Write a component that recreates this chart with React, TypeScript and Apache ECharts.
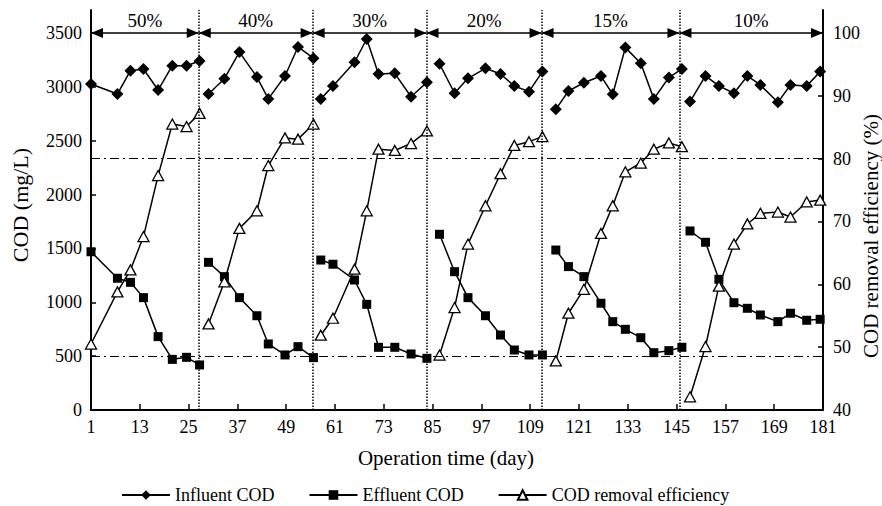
import React, { useEffect, useRef } from "react";
import * as echarts from "echarts";

const phaseLabels = ["50%", "40%", "30%", "20%", "15%", "10%"];
const phaseBounds = [1, 27.5, 55.5, 83.5, 111.8, 145.7, 181];

const days = [
  [1, 7.5, 10.7, 13.9, 17.5, 21, 24.5, 27.7],
  [29.9, 33.8, 37.5, 41.8, 44.6, 48.7, 51.9, 55.7],
  [57.5, 60.5, 65.8, 68.8, 71.7, 75.7, 79.7, 83.6],
  [86.7, 90.4, 93.7, 98, 101.7, 105.1, 108.7, 112],
  [115.3, 118.4, 122.2, 126.4, 129.3, 132.4, 136.2, 139.4, 143.1, 146.3],
  [148.3, 152.1, 155.4, 159.1, 162.4, 165.6, 169.9, 173, 177, 180.3],
];

const influent = [
  [3026, 2933, 3150, 3165, 2970, 3196, 3196, 3240],
  [2933, 3075, 3322, 3090, 2888, 3100, 3370, 3266],
  [2888, 3008, 3228, 3444, 3119, 3125, 2908, 3042],
  [3213, 2940, 3079, 3172, 3119, 3008, 2955, 3141],
  [2791, 2961, 3038, 3100, 2931, 3364, 3219, 2888, 3086, 3166],
  [2863, 3101, 3008, 2940, 3101, 3017, 2856, 3017, 3008, 3141],
];

const effluent = [
  [1469, 1223, 1185, 1043, 681, 470, 489, 418],
  [1371, 1238, 1043, 875, 613, 511, 588, 486],
  [1392, 1353, 1207, 981, 582, 582, 520, 480],
  [1631, 1284, 1043, 875, 696, 557, 511, 511],
  [1485, 1331, 1238, 991, 820, 749, 671, 532, 551, 582],
  [1662, 1557, 1213, 996, 944, 882, 820, 898, 833, 842],
];

const removal = [
  [50.5, 58.8, 62.3, 67.6, 77.3, 85.5, 85.1, 87.2],
  [53.7, 60.4, 68.9, 71.7, 78.9, 83.3, 83.1, 85.5],
  [51.9, 54.6, 62.4, 71.7, 81.5, 81.3, 82.4, 84.4],
  [48.75, 56.3, 66.4, 72.5, 77.6, 82.1, 82.7, 83.5],
  [47.8, 55.4, 59.2, 68.1, 72.5, 77.9, 79.3, 81.5, 82.5, 81.9],
  [42.1, 50.1, 59.7, 66.4, 69.6, 71.3, 71.5, 70.7, 73.1, 73.4],
];

const xTicks = [1, 13, 25, 37, 49, 61, 73, 85, 97, 109, 121, 133, 145, 157, 169, 181];
const codTicks = [0, 500, 1000, 1500, 2000, 2500, 3000, 3500];
const effTicks = [40, 50, 60, 70, 80, 90, 100];
const codLimit = 500;
const effLimit = 80;
const arrowLevel = 3500;
const codMax = 3713;
const effMax = 103.65;

const xTitle = "Operation time (day)";
const yTitle = "COD (mg/L)";
const y2Title = "COD removal efficiency (%)";

const FONT = "'Liberation Serif', 'Times New Roman', serif";

export default function App() {
  const ref = useRef<HTMLDivElement>(null);
  useEffect(() => {
    if (!ref.current) return;
    const chart = echarts.init(ref.current, null, { renderer: "svg" });
    const black = "#000";
    const series: any[] = [];
    for (let p = 0; p < days.length; p++) {
      const base = { type: "line", animation: false, lineStyle: { color: black, width: 1.5 } };
      const inf: any = {
        ...base,
        name: "Influent COD",
        yAxisIndex: 0,
        symbol: "diamond",
        symbolSize: 12,
        itemStyle: { color: black },
        data: days[p].map((d, i) => [d - 1, influent[p][i]]),
      };
      const eff: any = {
        ...base,
        name: "Effluent COD",
        yAxisIndex: 0,
        symbol: "rect",
        symbolSize: 9,
        itemStyle: { color: black },
        data: days[p].map((d, i) => [d - 1, effluent[p][i]]),
      };
      const rem: any = {
        ...base,
        name: "COD removal efficiency",
        yAxisIndex: 1,
        symbol: "triangle",
        symbolSize: [11, 10],
        itemStyle: { color: "#fff", borderColor: black, borderWidth: 1.3 },
        data: days[p].map((d, i) => [d - 1, removal[p][i]]),
      };
      if (p === 0) {
        inf.markLine = {
          silent: true,
          symbol: "none",
          label: { show: false },
          lineStyle: { color: black, type: "dotted", width: 1.5 },
          data: phaseBounds.slice(1, -1).map((b) => [
            { coord: [b - 1, 0] },
            { coord: [b - 1, codMax] },
          ]),
        };
        eff.markLine = {
          silent: true,
          symbol: ["triangle", "triangle"],
          symbolSize: [10, 12],
          symbolOffset: [[0, 6], [0, 6]],
          lineStyle: { color: black, type: "solid", width: 1.5 },
          label: {
            show: true,
            position: "insideMiddleTop",
            formatter: "{b}",
            color: black,
            fontFamily: FONT,
            fontSize: 19,
            distance: 3,
          },
          data: phaseLabels.map((lab, i) => [
            { name: lab, coord: [phaseBounds[i] - 1, arrowLevel] },
            { coord: [phaseBounds[i + 1] - 1, arrowLevel] },
          ]),
        };
        const dd = {
          silent: true,
          symbol: "none",
          label: { show: false },
          lineStyle: { color: black, type: [9, 4, 2, 4], width: 1.2 },
        };
        series.push({
          type: "line",
          yAxisIndex: 0,
          data: [],
          markLine: { ...dd, data: [{ yAxis: codLimit }] },
        });
        series.push({
          type: "line",
          yAxisIndex: 1,
          data: [],
          markLine: { ...dd, data: [{ yAxis: effLimit }] },
        });
      }
      series.push(inf, eff, rem);
    }

    const axisLine = { show: true, lineStyle: { color: black, width: 2 } };
    const labelStyle = { color: black, fontFamily: FONT, fontSize: 18 };
    const titleStyle = (size: number) => ({
      fill: black,
      fontFamily: FONT,
      fontSize: size,
      align: "center",
      verticalAlign: "middle",
    });
    chart.setOption({
      animation: false,
      backgroundColor: "#fff",
      grid: { left: 91, right: 59, top: 10, bottom: 96, containLabel: false, outerBoundsMode: "none" },
      graphic: [
        { type: "text", x: 446, y: 458, style: { text: xTitle, ...titleStyle(21) } },
        { type: "text", x: 20, y: 205, rotation: Math.PI / 2, style: { text: yTitle, ...titleStyle(22) } },
        { type: "text", x: 871, y: 236, rotation: Math.PI / 2, style: { text: y2Title, ...titleStyle(21) } },
      ],
      legend: {
        data: ["Influent COD", "Effluent COD", "COD removal efficiency"],
        left: 116,
        top: 481,
        itemWidth: 48,
        itemHeight: 12,
        itemGap: 34,
        textStyle: { color: black, fontFamily: FONT, fontSize: 18 },
      },
      xAxis: {
        type: "value",
        min: 0,
        max: 180,
        interval: 12,
        axisLine,
        axisTick: { show: true, inside: true, length: 6, lineStyle: { color: black, width: 1.5 }, customValues: xTicks.map((t) => t - 1) },
        axisLabel: { ...labelStyle, margin: 8, customValues: xTicks.map((t) => t - 1), formatter: (v: number) => String(Math.round(v + 1)) },
        splitLine: { show: false },
      },
      yAxis: [
        {
          type: "value",
          min: 0,
          max: codMax,
          interval: 500,
          axisLine,
          axisTick: { show: true, inside: true, length: 5, lineStyle: { color: black, width: 1.5 }, customValues: codTicks },
          axisLabel: { ...labelStyle, margin: 9, customValues: codTicks, formatter: (v: number) => String(v) },
          splitLine: { show: false },
        },
        {
          type: "value",
          min: 40,
          max: effMax,
          interval: 10,
          axisLine,
          axisTick: { show: true, inside: true, length: 5, lineStyle: { color: black, width: 1.5 }, customValues: effTicks },
          axisLabel: { ...labelStyle, margin: 10, customValues: effTicks, formatter: (v: number) => String(v) },
          splitLine: { show: false },
        },
      ],
      series,
    });
    return () => chart.dispose();
  }, []);
  return <div ref={ref} style={{ width: 882, height: 506, position: "absolute", left: 0, top: 0 }} />;
}
